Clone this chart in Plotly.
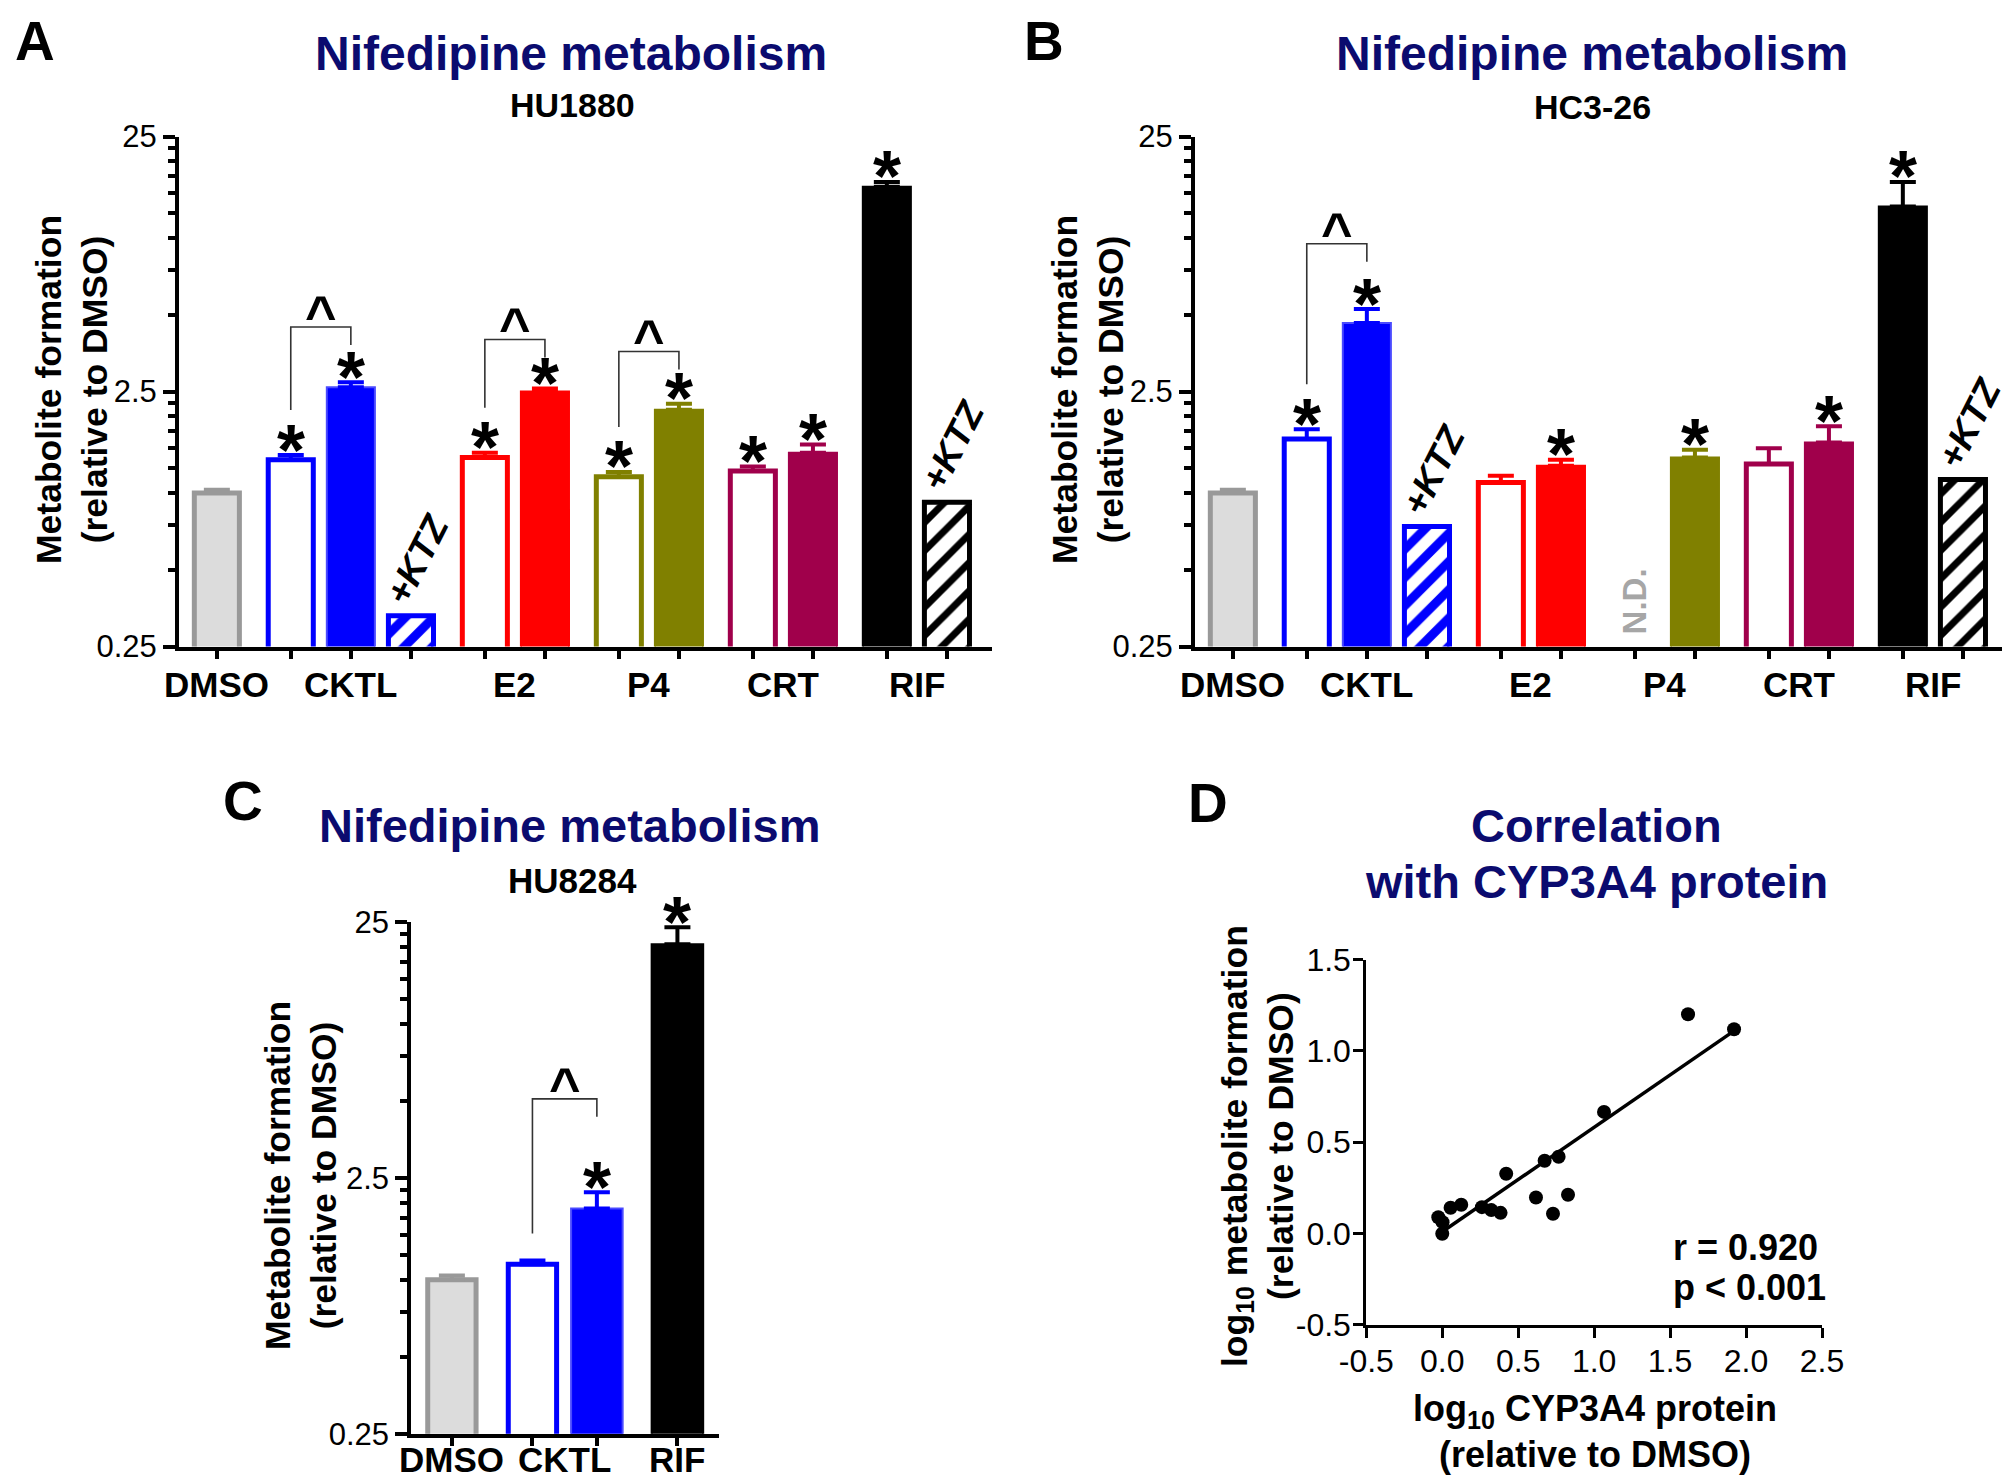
import numpy as np
import plotly.graph_objects as go

FONT = "Liberation Sans, Arial, sans-serif"
NAVY = "#0b0b6f"
W, H = 2010, 1479

# ---------------- data ----------------
# Panels A and B: bar order (open = low, filled = high, hatched = +KTZ)
groups_AB = ["DMSO", "CKTL", "E2", "P4", "CRT", "RIF"]
bars_AB = ["DMSO", "CKTL", "CKTL high", "CKTL+KTZ", "E2", "E2 high",
           "P4", "P4 high", "CRT", "CRT high", "RIF", "RIF+KTZ"]
bar_group_AB = [0, 1, 1, 1, 2, 2, 3, 3, 4, 4, 5, 5]
bar_kind_AB = ["dmso", "open", "filled", "hatch", "open", "filled",
               "open", "filled", "open", "filled", "filled", "hatch"]
bar_color_AB = ["#dcdcdc", "#0000ff", "#0000ff", "#0000ff", "#ff0000", "#ff0000",
                "#808000", "#808000", "#a0004b", "#a0004b", "#000000", "#000000"]

# A: HU1880
hu1880_mean = [1.00, 1.35, 2.60, 0.33, 1.38, 2.50, 1.16, 2.12, 1.22, 1.44, 15.9, 0.92]
hu1880_upper = [1.03, 1.41, 2.72, None, 1.44, 2.57, 1.21, 2.24, 1.27, 1.55, 16.6, None]
hu1880_sig = [0, 1, 1, 0, 1, 1, 1, 1, 1, 1, 1, 0]
hu1880_brackets = [(1, 2, 4.48), (4, 5, 4.00), (6, 7, 3.59)]

# B: HC3-26 (P4 low not determined)
hc326_mean = [1.00, 1.63, 4.64, 0.74, 1.10, 1.28, None, 1.38, 1.30, 1.58, 13.3, 1.13]
hc326_upper = [1.03, 1.78, 5.27, None, 1.17, 1.35, None, 1.48, 1.50, 1.83, 16.6, None]
hc326_sig = [0, 1, 1, 0, 0, 1, 0, 1, 0, 1, 1, 0]
hc326_brackets = [(1, 2, 9.5)]
hc326_nd = [6]

# C: HU8284
groups_C = ["DMSO", "CKTL", "RIF"]
bars_C = ["DMSO", "CKTL", "CKTL high", "RIF"]
bar_group_C = [0, 1, 1, 2]
bar_kind_C = ["dmso", "open", "filled", "filled"]
bar_color_C = ["#dcdcdc", "#0000ff", "#0000ff", "#000000"]
hu8284_mean = [1.00, 1.15, 1.90, 20.5]
hu8284_upper = [1.04, 1.19, 2.20, 23.9]
hu8284_sig = [0, 0, 1, 1]
hu8284_brackets = [(1, 2, 5.1)]

# D: correlation
cyp3a4_log = [1.618, 1.921, 1.065, 0.674, 0.766, 0.421, 0.617, 0.828, 0.729,
              0.384, 0.323, 0.261, 0.125, 0.055, -0.026, 0.002, 0.000]
metab_log = [1.201, 1.119, 0.666, 0.398, 0.420, 0.327, 0.197, 0.212, 0.108,
             0.113, 0.128, 0.144, 0.157, 0.141, 0.089, 0.062, -0.002]
fit_slope, fit_intercept = 0.573, 0.009
r_text, p_text = "r = 0.920", "p < 0.001"

log_major = [0.25, 2.5, 25]
log_major_text = ["0.25", "2.5", "25"]

# ---------------- helpers ----------------
def px(x):
    return x / W


def py(y):
    return 1 - y / H


def slot_positions(groups, gap):
    pos, cur = [], 0.0
    for i, g in enumerate(groups):
        if i > 0:
            cur += 1.0 if g == groups[i - 1] else gap
        pos.append(cur)
    return pos


fig = go.Figure()
annotations = []

STAR_SIZE = 72
STAR_SHIFT = 10 - 0.632 * STAR_SIZE - 1
CARET_SIZE = 54


def add_bar(xa, ya, x, mean, upper, kind, color):
    if mean is None:
        return
    if kind == "dmso":
        marker = dict(color="#dcdcdc", line=dict(color="#999999", width=5))
        width, ecol = 0.75, "#999999"
    elif kind == "open":
        marker = dict(color="white", line=dict(color=color, width=5))
        width, ecol = 0.75, color
    elif kind == "filled":
        edge = "#4a4aff" if color == "#0000ff" else color
        marker = dict(color=color, line=dict(color=edge, width=2))
        width, ecol = 0.8, color
    else:
        marker = dict(color="white", line=dict(color=color, width=5),
                      pattern=dict(shape="/", fgcolor=color, bgcolor="white",
                                   solidity=0.45 if color != "#000000" else 0.35,
                                   size=20, fillmode="replace"))
        width, ecol = 0.75, color
    err = None
    if upper is not None:
        err = dict(type="data", symmetric=False, array=[upper - mean], arrayminus=[0],
                   color=ecol, thickness=4, width=13)
    fig.add_trace(go.Bar(x=[x], y=[mean], width=[width], marker=marker, error_y=err,
                         xaxis=xa, yaxis=ya, showlegend=False, hoverinfo="skip"))


def add_star(xa, ya, x, upper):
    annotations.append(dict(x=x, y=np.log10(upper), xref=xa, yref=ya, text="<b>*</b>",
                            showarrow=False, yanchor="bottom", yshift=STAR_SHIFT,
                            font=dict(family=FONT, size=STAR_SIZE, color="black")))


def add_bracket(xa, ya, xl, xr, left_upper, left_sig, top, decade):
    lb = left_upper * 10 ** ((45 if left_sig else 27) / decade)
    rb = top / 10 ** (18 / decade)
    fig.add_trace(go.Scatter(x=[xl, xl, xr, xr], y=[lb, top, top, rb], mode="lines",
                             line=dict(color="#333333", width=1.6), xaxis=xa, yaxis=ya,
                             showlegend=False, hoverinfo="skip"))
    annotations.append(dict(x=(xl + xr) / 2, y=np.log10(top) + 21 / decade, xref=xa, yref=ya,
                            text="<b>^</b>", showarrow=False, yanchor="middle",
                            yshift=-0.165 * CARET_SIZE,
                            font=dict(family=FONT, size=CARET_SIZE, color="black")))


def bar_panel(xa, ya, pos, kinds, colors, means, uppers, sig, brackets, decade,
              group_idx, group_labels, label_y):
    for i in range(len(pos)):
        add_bar(xa, ya, pos[i], means[i], uppers[i], kinds[i], colors[i])
    for i in range(len(pos)):
        if sig[i] and uppers[i] is not None:
            add_star(xa, ya, pos[i], uppers[i])
        if kinds[i] == "hatch" and means[i] is not None:
            annotations.append(dict(x=pos[i] - 0.6, y=np.log10(means[i]), xref=xa, yref=ya,
                                    text="<b><i>+KTZ</i></b>", textangle=-63, showarrow=False,
                                    xanchor="left", yanchor="bottom", yshift=2,
                                    font=dict(family=FONT, size=37, color="black")))
    for (l, r, top) in brackets:
        add_bracket(xa, ya, pos[l], pos[r], uppers[l], sig[l], top, decade)
    for g, lab in enumerate(group_labels):
        xs = [pos[i] for i in range(len(pos)) if group_idx[i] == g]
        annotations.append(dict(x=(min(xs) + max(xs)) / 2, y=py(label_y), xref=xa, yref="paper",
                                text="<b>" + lab + "</b>", showarrow=False, yanchor="middle",
                                font=dict(family=FONT, size=35, color="black")))


def bar_xaxis(domain, rng, tickvals, anchor):
    return dict(domain=domain, range=rng, anchor=anchor, showline=True, linecolor="black",
                linewidth=4, ticks="outside", ticklen=8, tickwidth=4, tickcolor="black",
                tickmode="array", tickvals=tickvals, showticklabels=False, showgrid=False,
                zeroline=False, fixedrange=True, automargin=False)


minor_vals = [0.25 * k for k in range(2, 10)] + [2.5 * k for k in range(2, 10)]


def log_yaxis(domain, anchor):
    return dict(domain=domain, type="log", range=[np.log10(0.25), np.log10(25)], anchor=anchor,
                showline=True, linecolor="black", linewidth=4, ticks="outside", ticklen=12,
                tickwidth=4, tickcolor="black", tickmode="array", tickvals=log_major,
                ticktext=log_major_text,
                minor=dict(tickmode="array", tickvals=minor_vals, ticklen=7, tickwidth=4,
                           tickcolor="black", ticks="outside", showgrid=False),
                showgrid=False, zeroline=False, automargin=False,
                tickfont=dict(family=FONT, size=31, color="black"))


# ---------------- panels A & B ----------------
pos_AB = slot_positions(bar_group_AB, 1.23)
rng_AB = [-0.63, pos_AB[-1] + 0.75]
DEC_AB = 255.0

bar_panel("x", "y", pos_AB, bar_kind_AB, bar_color_AB, hu1880_mean, hu1880_upper,
          hu1880_sig, hu1880_brackets, DEC_AB, bar_group_AB, groups_AB, 676.5)
bar_panel("x2", "y2", pos_AB, bar_kind_AB, bar_color_AB, hc326_mean, hc326_upper,
          hc326_sig, hc326_brackets, DEC_AB, bar_group_AB, groups_AB, 676.5)
for i in hc326_nd:
    annotations.append(dict(x=pos_AB[i], y=0, xref="x2", yref="y2 domain", text="<b>N.D.</b>",
                            textangle=-90, showarrow=False, yanchor="bottom", yshift=10,
                            font=dict(family=FONT, size=33, color="#a6a6a6")))

# ---------------- panel C ----------------
pos_C = slot_positions(bar_group_C, 1.25)
rng_C = [-0.63, pos_C[-1] + 0.65]
bar_panel("x3", "y3", pos_C, bar_kind_C, bar_color_C, hu8284_mean, hu8284_upper,
          hu8284_sig, hu8284_brackets, 255.7, bar_group_C, groups_C, 1451)

# ---------------- panel D ----------------
fig.add_trace(go.Scatter(x=cyp3a4_log, y=metab_log, mode="markers",
                         marker=dict(color="black", size=14), xaxis="x4", yaxis="y4",
                         showlegend=False, hoverinfo="skip"))
fx = np.array([0.0, max(cyp3a4_log)])
fig.add_trace(go.Scatter(x=fx, y=fit_slope * fx + fit_intercept, mode="lines",
                         line=dict(color="black", width=3.5), xaxis="x4", yaxis="y4",
                         showlegend=False, hoverinfo="skip"))
annotations.append(dict(x=px(1663), y=py(1239), xref="paper", yref="paper", text="<b>" + r_text + "</b>",
                        showarrow=False, xanchor="left", yanchor="middle",
                        font=dict(family=FONT, size=36, color="black")))
annotations.append(dict(x=px(1663), y=py(1279), xref="paper", yref="paper", text="<b>" + p_text + "</b>",
                        showarrow=False, xanchor="left", yanchor="middle",
                        font=dict(family=FONT, size=36, color="black")))

d_ticks = [-0.5, 0.0, 0.5, 1.0, 1.5, 2.0, 2.5]
d_ytks = [-0.5, 0.0, 0.5, 1.0, 1.5]

# ---------------- texts ----------------
def txt(x, y, text, size, color="black", xanchor="center", angle=0, yanchor="middle"):
    annotations.append(dict(x=px(x), y=py(y), xref="paper", yref="paper", text=text,
                            showarrow=False, xanchor=xanchor, yanchor=yanchor, textangle=angle,
                            font=dict(family=FONT, size=size, color=color)))

for lab, x, y in [("A", 27, 0), ("B", 1036, 0), ("C", 235, 760), ("D", 1200, 762)]:
    txt(x, y, "<b>" + lab + "</b>", 55, yanchor="top")

txt(563, 45, "<b>Nifedipine metabolism</b>", 48, NAVY)
txt(564, 97, "<b>HU1880</b>", 34)
txt(1584, 45, "<b>Nifedipine metabolism</b>", 48, NAVY)
txt(1584, 99, "<b>HC3-26</b>", 34)
txt(561, 817, "<b>Nifedipine metabolism</b>", 47, NAVY)
txt(564, 872, "<b>HU8284</b>", 35)
txt(1588, 817, "<b>Correlation</b>", 47, NAVY)
txt(1588, 873, "<b>with CYP3A4 protein</b>", 47, NAVY)

ytitle = "<b>Metabolite formation<br>(relative to DMSO)</b>"
txt(64, 382, ytitle, 35.5, angle=-90)
txt(1080, 382, ytitle, 35.5, angle=-90)
txt(293, 1168, ytitle, 35.5, angle=-90)
txt(1250, 1138, "<b>log<sub>10</sub> metabolite formation<br>(relative to DMSO)</b>", 35.5, angle=-90)
txt(1587, 1403, "<b>log<sub>10</sub> CYP3A4 protein</b>", 36)
txt(1587, 1446, "<b>(relative to DMSO)</b>", 36)

# ---------------- layout ----------------
d_axis_common = dict(showline=True, linecolor="black", linewidth=3, ticks="outside", ticklen=10,
                     tickwidth=3, tickcolor="black", showgrid=False, zeroline=False,
                     automargin=False, tickmode="array", ticklabelstandoff=-4,
                     tickfont=dict(family=FONT, size=32, color="black"))
fig.update_layout(
    width=W, height=H, margin=dict(l=0, r=0, t=0, b=0, pad=0), autosize=False,
    paper_bgcolor="white", plot_bgcolor="rgba(0,0,0,0)", barmode="overlay",
    font=dict(family=FONT, color="black"),
    xaxis=bar_xaxis([px(171), px(984)], rng_AB, pos_AB, "y"),
    yaxis=log_yaxis([py(638.6), py(128.6)], "x"),
    xaxis2=bar_xaxis([px(1187), px(2000)], rng_AB, pos_AB, "y2"),
    yaxis2=log_yaxis([py(638.6), py(128.6)], "x2"),
    xaxis3=bar_xaxis([px(403.3), px(711.3)], rng_C, pos_C, "y3"),
    yaxis3=log_yaxis([py(1425.7), py(914.3)], "x3"),
    xaxis4=dict(domain=[px(1358.3), px(1814)], range=[-0.5, 2.5], anchor="y4",
                tickvals=d_ticks, ticktext=["%.1f" % v for v in d_ticks], **d_axis_common),
    yaxis4=dict(domain=[py(1316.7), py(951.7)], range=[-0.5, 1.5], anchor="x4",
                tickvals=d_ytks, ticktext=["%.1f" % v for v in d_ytks], **d_axis_common),
    annotations=annotations,
)

fig.write_html("out.html")
